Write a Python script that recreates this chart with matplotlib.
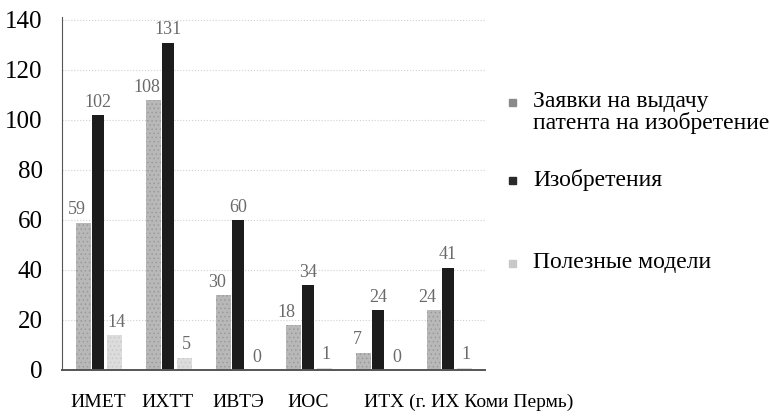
import matplotlib.pyplot as plt
import numpy as np
from matplotlib.patches import Rectangle

plt.rcParams['font.family'] = ['Liberation Serif', 'DejaVu Serif']
plt.rcParams['hatch.linewidth'] = 0.6

# данные
institutes = ['ИМЕТ', 'ИХТТ', 'ИВТЭ', 'ИОС', 'ИТХ (г. ИХ Коми Пермь)', '']
applications = [59, 108, 30, 18, 7, 24]
inventions = [102, 131, 60, 34, 24, 41]
utility_models = [14, 5, 0, 1, 0, 1]
series_names = ['Заявки на выдачу\nпатента на изобретение', 'Изобретения', 'Полезные модели']

fig = plt.figure(figsize=(7.7, 4.17), dpi=100)
ax = fig.add_axes([62 / 770, 47 / 417, 423 / 770, 353 / 417])

x = np.arange(len(institutes))
b1 = ax.bar(x - 0.2, applications, 0.21, color='#b8b8b8', edgecolor='#9a9a9a', hatch='....', linewidth=0)
b2 = ax.bar(x, inventions, 0.17, color='#1c1c1c', linewidth=0)
b3 = ax.bar(x + 0.235, utility_models, 0.21, color='#dcdcdc', edgecolor='#c8c8c8', hatch='....', linewidth=0)

for bars, dx in ((b1, -0.1), (b2, 0.0), (b3, 0.03)):
    for r in bars:
        h = r.get_height()
        ax.annotate(f'{h:g}', (r.get_x() + r.get_width() / 2 + dx, h), xytext=(0, 3),
                    textcoords='offset points', ha='center', va='bottom',
                    fontsize=13, color='#6a6a6a')

ax.set_xlim(-0.51, 5.53)
ax.set_ylim(0, 141.2)
ax.set_yticks(range(0, 141, 20))
ax.tick_params(axis='y', labelsize=18, length=0, pad=14)
ax.set_xticks(x[:4])
ax.set_xticklabels(institutes[:4], fontsize=14)
ax.tick_params(axis='x', length=0, pad=17)
ax.annotate(institutes[4], (x[4], 0), xycoords=('data', 'axes fraction'),
            xytext=(-10, -17), textcoords='offset points', ha='left', va='top', fontsize=14)
ax.yaxis.grid(True, linestyle=':', color='#d0d0d0', linewidth=0.8)
ax.set_axisbelow(True)
for s in ('top', 'right'):
    ax.spines[s].set_visible(False)
ax.spines['left'].set_color('#555555')
ax.spines['bottom'].set_color('#555555')
ax.spines['bottom'].set_linewidth(1.4)

# легенда
colors = ['#8a8a8a', '#2a2a2a', '#c8c8c8']
ys = [102, 180, 263]
for name, c, y in zip(series_names, colors, ys):
    fig.patches.append(Rectangle((509 / 770, (417 - y - 3.5) / 417), 7 / 770, 7 / 417,
                                 transform=fig.transFigure, color=c))
    fig.text(533 / 770, (417 - y + 11) / 417, name, fontsize=17, va='top', ha='left',
             linespacing=1.0)

plt.savefig('out.png')
